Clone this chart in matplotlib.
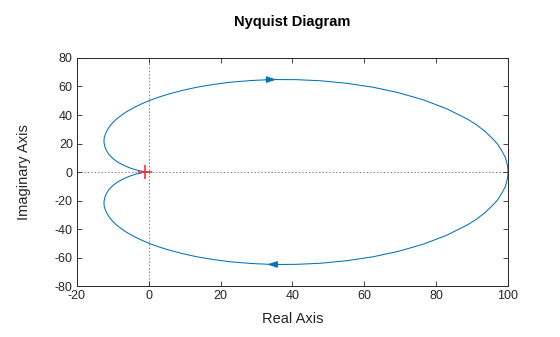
import matplotlib
matplotlib.use("Agg")
import matplotlib.pyplot as plt
import numpy as np

plt.rcParams['font.family'] = ['Liberation Sans', 'DejaVu Sans']
plt.rcParams['axes.unicode_minus'] = False

# Nyquist curve, positive-frequency branch
re_pos = [100.0, 99.95, 99.8, 99.3, 98.3, 97.1, 95.4, 93.5, 91.3, 88.8, 83.0, 76.6,
          69.6, 62.4, 55.2, 48.0, 41.1, 34.6, 28.5, 23.0, 17.9, 13.4, 9.4, 5.8, 2.7,
          0.0, -2.3, -4.3, -6.0, -7.4, -9.1, -10.3, -11.2, -11.8, -12.4, -12.5, -12.3,
          -12.0, -11.1, -10.0, -9.0, -8.0, -6.4, -5.2, -3.6, -2.6, -1.5, -1.0, -0.4,
          -0.1, 0.0]
im_pos = [0.0, -2.5, -5.0, -10.0, -14.8, -19.6, -24.2, -28.7, -33.0, -37.0, -44.3, -50.5,
          -55.6, -59.5, -62.2, -64.0, -64.8, -64.9, -64.2, -63.1, -61.4, -59.5, -57.3, -54.9, -52.5,
          -50.0, -47.5, -45.0, -42.6, -40.3, -37.0, -33.9, -31.0, -28.4, -24.5, -21.2, -18.4,
          -16.0, -12.2, -9.5, -7.5, -6.0, -4.0, -2.8, -1.5, -0.9, -0.4, -0.2, -0.06,
          -0.01, 0.0]

xticks = [-20, 0, 20, 40, 60, 80, 100]
yticks = [-80, -60, -40, -20, 0, 20, 40, 60, 80]

blue = '#0072BD'
axc = '#262626'

fig = plt.figure(figsize=(5.6, 3.37), dpi=100)
ax = fig.add_axes([0.1375, 0.1513, 0.7696, 0.6766])

re_pos = np.array(re_pos)
im_pos = np.array(im_pos)
# negative-frequency branch is the mirror image
ax.plot(re_pos, im_pos, color=blue, lw=0.75, solid_joinstyle='round')
ax.plot(re_pos, -im_pos, color=blue, lw=0.75, solid_joinstyle='round')

# direction arrows
ax.annotate('', xy=(33.0, -64.85), xytext=(36.0, -64.85),
            arrowprops=dict(arrowstyle='-|>,head_length=0.6,head_width=0.2',
                            color=blue, lw=0.75, shrinkA=0, shrinkB=0))
ax.annotate('', xy=(35.5, 64.85), xytext=(32.5, 64.85),
            arrowprops=dict(arrowstyle='-|>,head_length=0.6,head_width=0.2',
                            color=blue, lw=0.75, shrinkA=0, shrinkB=0))

# zero lines
ax.axhline(0, color='#808080', lw=0.7, ls=(0, (1.5, 2)), zorder=0)
ax.axvline(0, color='#808080', lw=0.7, ls=(0, (1.5, 2)), zorder=0)

# critical point
ax.plot([-1], [0], marker='+', color='#FF3030', ms=10, mew=1.4, alpha=0.85, zorder=3)

ax.set_xlim(-20, 100)
ax.set_ylim(-80, 80)
ax.set_xticks(xticks)
ax.set_yticks(yticks)
ax.tick_params(direction='in', top=True, right=True, length=3.5, width=0.6,
               labelsize=9, colors=axc, pad=3)
for s in ax.spines.values():
    s.set_color(axc)
    s.set_linewidth(0.7)

ax.set_xlabel('Real Axis', fontsize=10.5, color=axc, labelpad=7)
ax.set_ylabel('Imaginary Axis', fontsize=10.5, color=axc, labelpad=17)
fig.suptitle('Nyquist Diagram', fontsize=10.5, fontweight='bold', y=0.955, x=0.522,
             color='#000000')

fig.savefig('out.png', dpi=100)
